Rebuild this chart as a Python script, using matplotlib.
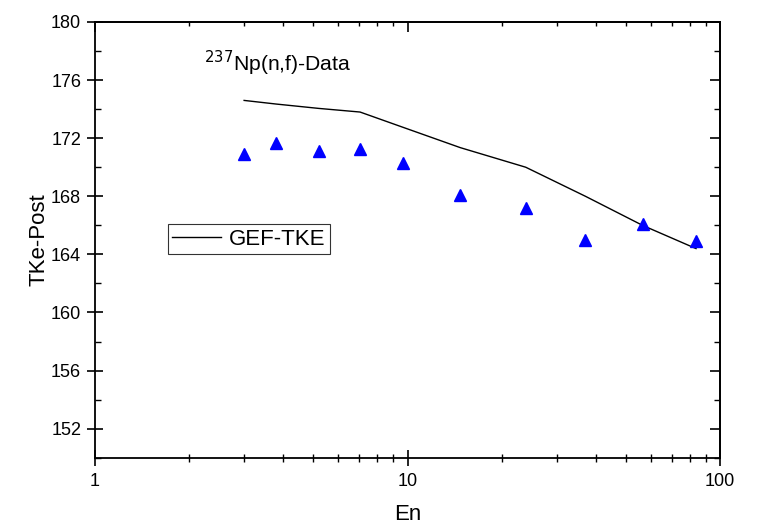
import matplotlib
matplotlib.use("Agg")
import matplotlib.pyplot as plt
from matplotlib.ticker import FixedLocator, NullFormatter, LogLocator

plt.rcParams['font.family'] = ['Liberation Sans', 'DejaVu Sans']

energy = [3.0, 3.8, 5.2, 7.05, 9.67, 14.75, 23.9, 37.1, 56.5, 83.8]
tke_data = [170.9, 171.7, 171.1, 171.27, 170.3, 168.1, 167.2, 165.0, 166.1, 164.9]
tke_gef = [174.6, 174.35, 174.05, 173.8, 172.75, 171.35, 170.0, 168.0, 166.0, 164.4]
yticks = [152, 156, 160, 164, 168, 172, 176, 180]
yminor = [150, 154, 158, 162, 166, 170, 174, 178]
xticks = [1, 10, 100]
xticklabels = ['1', '10', '100']

fig = plt.figure(figsize=(7.59, 5.26), dpi=100)
ax = fig.add_axes([0.1252, 0.1298, 0.8234, 0.8284])

ax.plot(energy, tke_gef, color='black', lw=1.0, label='GEF-TKE')
ax.plot(energy, tke_data, linestyle='none', marker='^', ms=8.5, color='#0000ff',
        markeredgecolor='#0000ff')

ax.set_xscale('log')
ax.set_xlim(1, 100)
ax.set_ylim(150, 180)

ax.xaxis.set_major_locator(FixedLocator(xticks))
ax.set_xticklabels(xticklabels)
ax.xaxis.set_minor_locator(LogLocator(base=10, subs=range(2, 10)))
ax.xaxis.set_minor_formatter(NullFormatter())
ax.yaxis.set_major_locator(FixedLocator(yticks))
ax.yaxis.set_minor_locator(FixedLocator(yminor))

for s in ax.spines.values():
    s.set_linewidth(1.3)

ax.tick_params(axis='both', which='major', direction='inout', length=12, width=1.2,
               labelsize=13)
ax.tick_params(axis='y', which='minor', direction='in', length=4, width=1.0)
ax.tick_params(axis='x', which='minor', direction='inout', length=6, width=1.0)
ax.tick_params(axis='x', which='major', pad=5)
ax.tick_params(axis='y', which='major', pad=4)

# top and right axes: inward ticks only
sx = ax.secondary_xaxis('top')
sx.xaxis.set_major_locator(FixedLocator(xticks))
sx.xaxis.set_minor_locator(LogLocator(base=10, subs=range(2, 10)))
sx.xaxis.set_major_formatter(NullFormatter())
sx.xaxis.set_minor_formatter(NullFormatter())
sx.tick_params(which='major', direction='in', length=7, width=1.2)
sx.tick_params(which='minor', direction='in', length=3, width=1.0)
sx.spines['top'].set_linewidth(1.3)

sy = ax.secondary_yaxis('right')
sy.yaxis.set_major_locator(FixedLocator(yticks))
sy.yaxis.set_minor_locator(FixedLocator(yminor))
sy.yaxis.set_major_formatter(NullFormatter())
sy.tick_params(which='major', direction='in', length=7, width=1.2)
sy.tick_params(which='minor', direction='in', length=4, width=1.0)
sy.spines['right'].set_linewidth(1.3)

ax.set_xlabel('En', fontsize=16, labelpad=10)
ax.set_ylabel('TKe-Post', fontsize=16, labelpad=1)

ax.text(0.174, 0.906, r'$^{237}$Np(n,f)-Data', transform=ax.transAxes, fontsize=15.2,
        ha='left', va='center')

leg = ax.legend(loc='upper left', bbox_to_anchor=(0.1168, 0.536), borderaxespad=0,
                fontsize=16, frameon=True, fancybox=False, edgecolor='black',
                handlelength=2.2, borderpad=0.2, handletextpad=0.35)
leg.get_frame().set_linewidth(0.8)

fig.savefig('out.png', dpi=100)
